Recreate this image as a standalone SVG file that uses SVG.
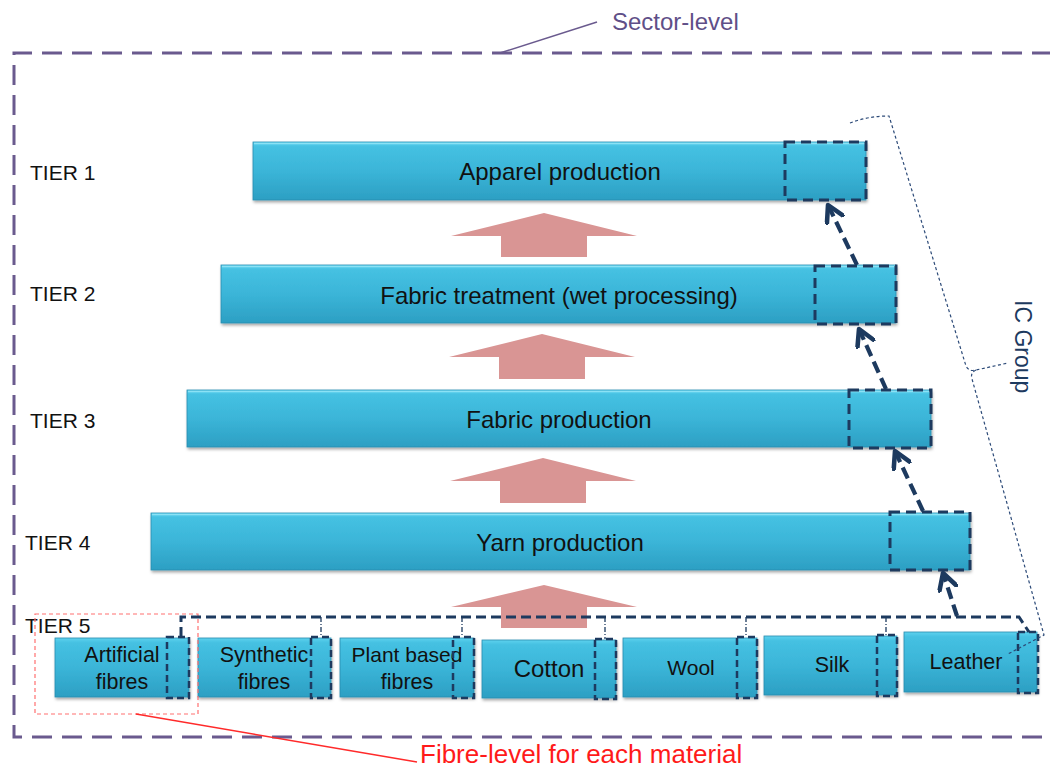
<svg xmlns="http://www.w3.org/2000/svg" width="1050" height="771" viewBox="0 0 1050 771">
<defs>
<linearGradient id="barGrad" x1="0" y1="0" x2="0" y2="1">
<stop offset="0" stop-color="#5fd2ee"/>
<stop offset="0.08" stop-color="#45c1e2"/>
<stop offset="0.5" stop-color="#3bb5d8"/>
<stop offset="1" stop-color="#2c9fc3"/>
</linearGradient>
<filter id="shadow" x="-5%" y="-20%" width="110%" height="150%">
<feDropShadow dx="1" dy="2" stdDeviation="1.5" flood-color="#000" flood-opacity="0.35"/>
</filter>
<marker id="chev" viewBox="0 0 12 12" refX="10" refY="6" markerWidth="5" markerHeight="5" orient="auto" markerUnits="strokeWidth">
<path d="M1,1 L10,6 L1,11" fill="none" stroke="#1d3a5f" stroke-width="2.6" stroke-linecap="round" stroke-linejoin="round"/>
</marker>
</defs>
<style>
.bar{fill:url(#barGrad);stroke:#2a8db0;stroke-width:0.8;filter:url(#shadow)}
.hl{stroke:#8be2f5;stroke-width:1.5;fill:none}
.lbl{font-family:"Liberation Sans",Arial,sans-serif;fill:#111}
.tier{font-family:"Liberation Sans",Arial,sans-serif;font-size:21px;fill:#111}
.dbox{fill:none;stroke:#1d3a5f;stroke-width:3;stroke-dasharray:10,6}
.sbox{fill:none;stroke:#1d3a5f;stroke-width:2.5;stroke-dasharray:7,4}
.arr{fill:none;stroke:#1d3a5f;stroke-width:4.2;stroke-dasharray:12,6;marker-end:url(#chev)}
.drop{fill:none;stroke:#1d3a5f;stroke-width:1.3;stroke-dasharray:5,2,1,2}
.pink{fill:#d99594}
</style>
<rect width="1050" height="771" fill="#fff"/>

<g id="pink-arrows">
<path class="pink" d="M544,213 L637,236 L587,236 L587,257 L501,257 L501,236 L451,236 Z"/>
<path class="pink" d="M542,334 L635,357 L585,357 L585,379 L499,379 L499,357 L449,357 Z"/>
<path class="pink" d="M543,458 L636,481 L586,481 L586,503 L500,503 L500,481 L450,481 Z"/>
<path class="pink" d="M544,585 L637,607 L587,607 L587,628 L501,628 L501,607 L451,607 Z"/>
</g>

<g id="sector-frame">
<path d="M1052,53 L14,53 L14,737 L1052,737" fill="none" stroke="#6a5a8e" stroke-width="3" stroke-dasharray="20,10"/>
<line x1="500" y1="53" x2="597" y2="22" stroke="#6a5a8e" stroke-width="1.5"/>
<text x="612" y="30" font-family="Liberation Sans,Arial,sans-serif" font-size="24" fill="#5f4f88">Sector-level</text>
</g>

<g id="tier-labels">
<text class="tier" x="30" y="180">TIER 1</text>
<text class="tier" x="30" y="301">TIER 2</text>
<text class="tier" x="30" y="428">TIER 3</text>
<text class="tier" x="25" y="550">TIER 4</text>
<text class="tier" x="25" y="633">TIER 5</text>
</g>

<g id="tier1">
<rect class="bar" x="253" y="142" width="613" height="58"/>
<line class="hl" x1="254" y1="143.5" x2="865" y2="143.5"/>
<text class="lbl" x="560" y="180" font-size="24" text-anchor="middle">Apparel production</text>
<rect class="dbox" x="785" y="142" width="81" height="58"/>
</g>
<g id="tier2">
<rect class="bar" x="221" y="265" width="675" height="58"/>
<line class="hl" x1="222" y1="266.5" x2="895" y2="266.5"/>
<text class="lbl" x="559" y="304" font-size="24" text-anchor="middle">Fabric treatment (wet processing)</text>
<rect class="dbox" x="815" y="266" width="81" height="58"/>
</g>
<g id="tier3">
<rect class="bar" x="187" y="390" width="744" height="57"/>
<line class="hl" x1="188" y1="391.5" x2="930" y2="391.5"/>
<text class="lbl" x="559" y="428" font-size="24" text-anchor="middle">Fabric production</text>
<rect class="dbox" x="849" y="390" width="82" height="58"/>
</g>
<g id="tier4">
<rect class="bar" x="151" y="513" width="819" height="57"/>
<line class="hl" x1="152" y1="514.5" x2="969" y2="514.5"/>
<text class="lbl" x="560" y="551" font-size="24" text-anchor="middle">Yarn production</text>
<rect class="dbox" x="890" y="512" width="80" height="58"/>
</g>

<g id="artificial">
<rect class="bar" x="55" y="638" width="134" height="59"/>
<text class="lbl" x="122" y="662" font-size="21.5" text-anchor="middle">Artificial</text>
<text class="lbl" x="122" y="689" font-size="21.5" text-anchor="middle">fibres</text>
<rect class="sbox" x="167" y="637" width="22" height="61"/>
</g>
<g id="synthetic">
<rect class="bar" x="198" y="638" width="133" height="59"/>
<text class="lbl" x="264" y="662" font-size="21.5" text-anchor="middle">Synthetic</text>
<text class="lbl" x="264" y="689" font-size="21.5" text-anchor="middle">fibres</text>
<rect class="sbox" x="311" y="637" width="20" height="61"/>
</g>
<g id="plant">
<rect class="bar" x="340" y="638" width="134" height="59"/>
<text class="lbl" x="407" y="662" font-size="21" text-anchor="middle">Plant based</text>
<text class="lbl" x="407" y="689" font-size="21.5" text-anchor="middle">fibres</text>
<rect class="sbox" x="453" y="637" width="21" height="61"/>
</g>
<g id="cotton">
<rect class="bar" x="482" y="640" width="134" height="58"/>
<text class="lbl" x="549" y="677" font-size="24" text-anchor="middle">Cotton</text>
<rect class="sbox" x="595" y="639" width="21" height="60"/>
</g>
<g id="wool">
<rect class="bar" x="623" y="638" width="134" height="59"/>
<text class="lbl" x="691" y="675" font-size="21" text-anchor="middle">Wool</text>
<rect class="sbox" x="737" y="637" width="20" height="61"/>
</g>
<g id="silk">
<rect class="bar" x="764" y="636" width="133" height="59"/>
<text class="lbl" x="832" y="672" font-size="21.5" text-anchor="middle">Silk</text>
<rect class="sbox" x="877" y="635" width="20" height="61"/>
</g>
<g id="leather">
<rect class="bar" x="904" y="632" width="133" height="60"/>
<text class="lbl" x="966" y="669" font-size="21.5" text-anchor="middle">Leather</text>
<rect class="sbox" x="1018" y="632" width="20" height="61"/>
</g>

<g id="fibre-level">
<rect x="35" y="614" width="163" height="100" fill="none" stroke="#ff7070" stroke-width="1.2" stroke-dasharray="4,3"/>
<line x1="136" y1="714" x2="417" y2="762" stroke="#ff2a2a" stroke-width="1.5"/>
<text x="420" y="763" font-family="Liberation Sans,Arial,sans-serif" font-size="26" fill="#ff1a1a">Fibre-level for each material</text>
</g>

<g id="ic-group">
<path d="M850,123 Q868,116 889,116 L966,366 Q969,372 976,370 L1008,363 M976,370 Q970,373 972,379 L1044,635 L1008,654" fill="none" stroke="#2c4a78" stroke-width="1.2" stroke-dasharray="3,2.5"/>
<text transform="translate(1015,300) rotate(90)" font-family="Liberation Sans,Arial,sans-serif" font-size="23" fill="#1d3a5f">IC Group</text>
</g>

<g id="connectors">
<path d="M181,637 L181,617 L1019,617 L1029,632" fill="none" stroke="#1d3a5f" stroke-width="3" stroke-dasharray="10,5"/>
<line class="drop" x1="321" y1="617" x2="321" y2="637"/>
<line class="drop" x1="462" y1="617" x2="462" y2="637"/>
<line class="drop" x1="605" y1="617" x2="605" y2="639"/>
<line class="drop" x1="746" y1="617" x2="746" y2="637"/>
<line class="drop" x1="886" y1="617" x2="886" y2="635"/>
<line class="arr" x1="857" y1="265" x2="828" y2="205"/>
<line class="arr" x1="886" y1="389" x2="859" y2="329"/>
<line class="arr" x1="923" y1="511" x2="895" y2="451"/>
<line class="arr" x1="957" y1="616" x2="943" y2="573"/>
</g>
</svg>
